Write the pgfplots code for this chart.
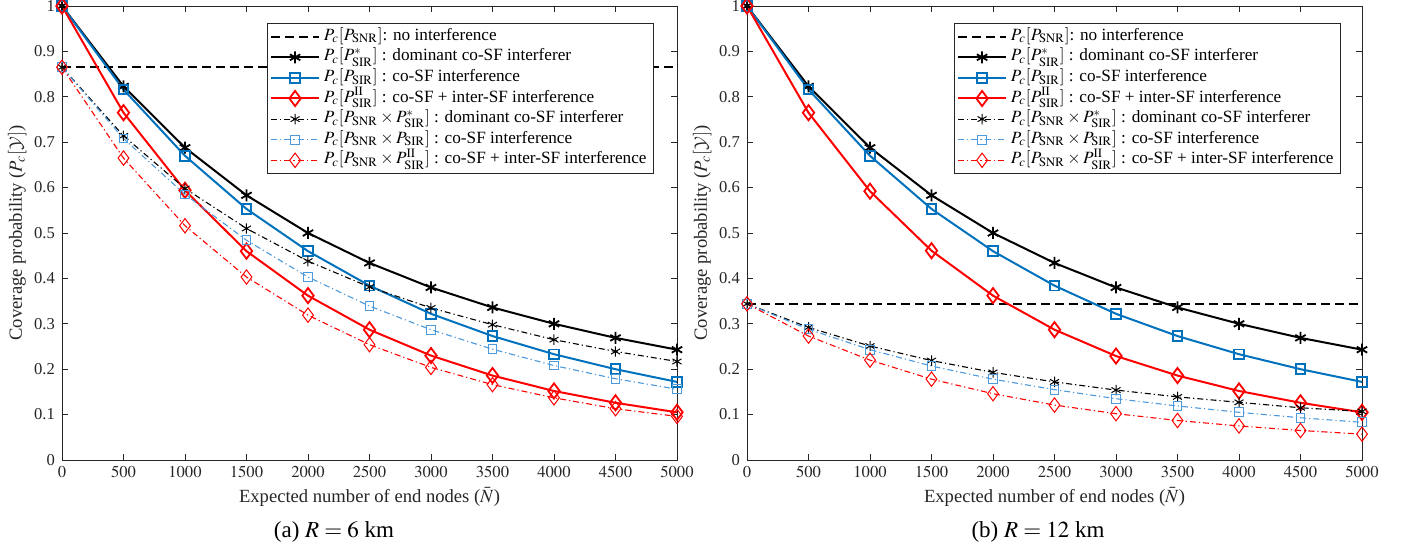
\documentclass[border=0pt]{standalone}
\usepackage{mathptmx}
\usepackage[no-math]{fontspec}
\setmainfont{Liberation Serif}
\DeclareMathAlphabet{\mathcmcal}{OMS}{cmsy}{m}{n}
\usepackage{pgfplots}
\pgfplotsset{compat=1.18}
\definecolor{mblue}{rgb}{0,0.447,0.741}
\definecolor{lblue}{rgb}{0.30,0.60,0.86}
\definecolor{axgray}{rgb}{0.15,0.15,0.15}
\pgfplotsset{
  myax/.style={
    scale only axis, width=307.5pt, height=227pt,
    xmin=0, xmax=5000, ymin=0, ymax=1,
    xtick={0,500,...,5000}, ytick={0,0.1,...,1},
    yticklabels={0,0.1,0.2,0.3,0.4,0.5,0.6,0.7,0.8,0.9,1},
    /pgf/number format/1000 sep={},
    tick align=inside, major tick length=3pt,
    axis line style={axgray, line width=0.4pt},
    every tick/.style={axgray, line width=0.4pt},
    ticklabel style={font=\fontsize{8.3}{9}\selectfont, text=axgray},
    xticklabel style={inner sep=1pt, yshift=-2pt},
    label style={font=\fontsize{9.3}{11}\selectfont, text=axgray},
    xlabel={Expected number of end nodes ($\bar{N}$)},
    ylabel={Coverage probability ($P_c[\mathcmcal{Y}]$)},
    xlabel style={inner sep=0.5pt, yshift=-3pt},
    ylabel style={yshift=-3pt},
    legend cell align=left,
    legend style={font=\fontsize{8.6}{9.4}\selectfont, draw=axgray, line width=0.4pt,
      inner sep=1.5pt, row sep=0pt,
      nodes={text height=6.3pt, text depth=2.6pt, inner ysep=0.7pt}},
    legend image code/.code={\draw[mark repeat=2,mark phase=2] plot coordinates {(0cm,0cm) (0.42cm,0cm) (0.84cm,0cm)};},
  },
  sdash/.style={black, line width=1pt, dash pattern=on 4.5pt off 2.5pt},
  sblack/.style={black, line width=1pt, mark=asterisk, mark size=3pt, mark options={solid, line width=0.9pt}},
  sblue/.style={mblue, line width=1pt, mark=square, mark size=2.4pt, mark options={solid, line width=0.9pt}},
  sred/.style={red, line width=1pt, mark=diamond, mark size=3.8pt, mark options={solid, line width=0.9pt}},
  dblack/.style={black, line width=0.55pt, dash pattern=on 3pt off 1.5pt on 0.6pt off 1.5pt, mark=asterisk, mark size=2.6pt, mark options={solid, line width=0.5pt}},
  dblue/.style={lblue, line width=0.55pt, dash pattern=on 3pt off 1.5pt on 0.6pt off 1.5pt, mark=square, mark size=2.2pt, mark options={solid, line width=0.5pt}},
  dred/.style={red, line width=0.55pt, dash pattern=on 3pt off 1.5pt on 0.6pt off 1.5pt, mark=diamond, mark size=3.6pt, mark options={solid, line width=0.5pt}},
}
\begin{document}
\begin{tikzpicture}
\useasboundingbox (-31pt,-45pt) rectangle (671pt,230pt);
\begin{axis}[myax, legend style={at={(1,1)}, anchor=north east, xshift=-11.5pt, yshift=-8.5pt}]
\addplot[sdash] coordinates {(0,0.865) (5000,0.865)};
\addlegendentry{$P_c[P_{\mathrm{SNR}}]$: no interference}
\addplot[sblack] coordinates {(0,1) (500,0.823) (1000,0.688) (1500,0.583) (2000,0.500) (2500,0.434) (3000,0.380) (3500,0.336) (4000,0.300) (4500,0.269) (5000,0.243)};
\addlegendentry{$P_c[P_{\mathrm{SIR}}^{*}]$ : dominant co-SF interferer}
\addplot[sblue] coordinates {(0,1) (500,0.816) (1000,0.670) (1500,0.553) (2000,0.460) (2500,0.384) (3000,0.322) (3500,0.273) (4000,0.233) (4500,0.200) (5000,0.172)};
\addlegendentry{$P_c[P_{\mathrm{SIR}}]$ : co-SF interference}
\addplot[sred] coordinates {(0,1) (500,0.765) (1000,0.594) (1500,0.460) (2000,0.362) (2500,0.287) (3000,0.230) (3500,0.186) (4000,0.152) (4500,0.126) (5000,0.105)};
\addlegendentry{$P_c[P_{\mathrm{SIR}}^{\mathrm{II}}]$ : co-SF + inter-SF interference}
\addplot[dblack] coordinates {(0,0.865) (500,0.714) (1000,0.598) (1500,0.510) (2000,0.438) (2500,0.381) (3000,0.335) (3500,0.298) (4000,0.265) (4500,0.239) (5000,0.217)};
\addlegendentry{$P_c[P_{\mathrm{SNR}}\times P_{\mathrm{SIR}}^{*}]$ : dominant co-SF interferer}
\addplot[dblue] coordinates {(0,0.865) (500,0.708) (1000,0.585) (1500,0.484) (2000,0.403) (2500,0.339) (3000,0.287) (3500,0.244) (4000,0.208) (4500,0.179) (5000,0.156)};
\addlegendentry{$P_c[P_{\mathrm{SNR}}\times P_{\mathrm{SIR}}]$ : co-SF interference}
\addplot[dred] coordinates {(0,0.865) (500,0.665) (1000,0.516) (1500,0.403) (2000,0.319) (2500,0.254) (3000,0.204) (3500,0.166) (4000,0.137) (4500,0.113) (5000,0.096)};
\addlegendentry{$P_c[P_{\mathrm{SNR}}\times P_{\mathrm{SIR}}^{\mathrm{II}}]$ : co-SF + inter-SF interference}
\end{axis}
\begin{axis}[myax, xshift=342.5pt, legend style={at={(1,1)}, anchor=north east, xshift=-10.5pt, yshift=-8.5pt}]
\addplot[sdash] coordinates {(0,0.344) (5000,0.344)};
\addlegendentry{$P_c[P_{\mathrm{SNR}}]$: no interference}
\addplot[sblack] coordinates {(0,1) (500,0.823) (1000,0.688) (1500,0.583) (2000,0.500) (2500,0.434) (3000,0.380) (3500,0.336) (4000,0.300) (4500,0.269) (5000,0.243)};
\addlegendentry{$P_c[P_{\mathrm{SIR}}^{*}]$ : dominant co-SF interferer}
\addplot[sblue] coordinates {(0,1) (500,0.816) (1000,0.670) (1500,0.553) (2000,0.460) (2500,0.384) (3000,0.322) (3500,0.273) (4000,0.233) (4500,0.200) (5000,0.172)};
\addlegendentry{$P_c[P_{\mathrm{SIR}}]$ : co-SF interference}
\addplot[sred] coordinates {(0,1) (500,0.765) (1000,0.592) (1500,0.461) (2000,0.362) (2500,0.287) (3000,0.229) (3500,0.186) (4000,0.152) (4500,0.126) (5000,0.105)};
\addlegendentry{$P_c[P_{\mathrm{SIR}}^{\mathrm{II}}]$ : co-SF + inter-SF interference}
\addplot[dblack] coordinates {(0,0.344) (500,0.292) (1000,0.251) (1500,0.219) (2000,0.193) (2500,0.172) (3000,0.154) (3500,0.139) (4000,0.127) (4500,0.115) (5000,0.107)};
\addlegendentry{$P_c[P_{\mathrm{SNR}}\times P_{\mathrm{SIR}}^{*}]$ : dominant co-SF interferer}
\addplot[dblue] coordinates {(0,0.344) (500,0.288) (1000,0.243) (1500,0.207) (2000,0.178) (2500,0.155) (3000,0.135) (3500,0.119) (4000,0.105) (4500,0.093) (5000,0.083)};
\addlegendentry{$P_c[P_{\mathrm{SNR}}\times P_{\mathrm{SIR}}]$ : co-SF interference}
\addplot[dred] coordinates {(0,0.344) (500,0.273) (1000,0.220) (1500,0.178) (2000,0.146) (2500,0.121) (3000,0.102) (3500,0.087) (4000,0.075) (4500,0.065) (5000,0.057)};
\addlegendentry{$P_c[P_{\mathrm{SNR}}\times P_{\mathrm{SIR}}^{\mathrm{II}}]$ : co-SF + inter-SF interference}
\end{axis}
\node[font=\fontsize{11.5}{13}\selectfont] at (136pt,-36pt) {(a) $R=6$ km};
\node[font=\fontsize{11.5}{13}\selectfont] at (488pt,-36pt) {(b) $R=12$ km};
\end{tikzpicture}
\end{document}
